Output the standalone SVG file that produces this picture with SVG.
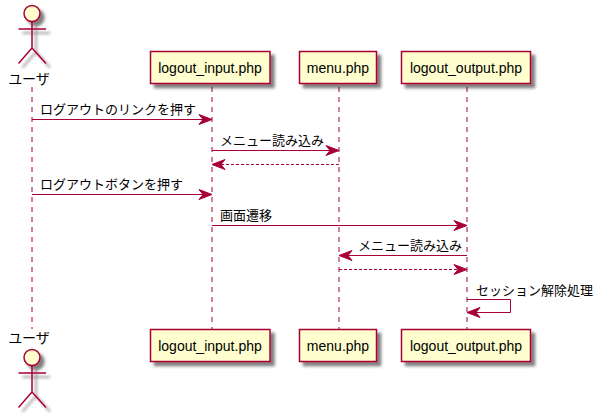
<svg xmlns="http://www.w3.org/2000/svg" width="603" height="418" viewBox="0 0 603 418">
<style>
text{font-family:"Liberation Sans","Noto Sans CJK JP",sans-serif;font-size:13px;fill:#000}
.box{fill:#FEFECE;stroke:#A80036;stroke-width:1.5}
.life{stroke:#A80036;stroke-width:1;stroke-dasharray:5 5;fill:none}
.msg{stroke:#A80036;stroke-width:1;fill:none}
.dash{stroke-dasharray:3 2}
.stick{stroke:#A80036;stroke-width:1.5;fill:none}
.head{fill:#A80036;stroke:#A80036}
.c{text-anchor:middle;font-size:14px}
</style>
<defs>
<filter id="sh" x="-30%" y="-30%" width="170%" height="170%"><feGaussianBlur in="SourceAlpha" stdDeviation="1.7"/><feOffset dx="4" dy="4"/><feComponentTransfer><feFuncA type="linear" slope="0.5"/></feComponentTransfer><feMerge><feMergeNode/><feMergeNode in="SourceGraphic"/></feMerge></filter>
<g id="actor"><circle class="box" cx="32" cy="0" r="8"/><path class="stick" d="M32 8V34.500M18.500 15.500H46M32 34.500L18.500 50M32 34.500L46 50"/></g>
</defs>
<g id="connectors">
<path class="life" d="M32 87V329"/><path class="life" d="M212 87V329"/><path class="life" d="M339 87V329"/><path class="life" d="M467 87V329"/>
<path class="msg" d="M32 119.500H208"/><path class="head" d="M199 114.500L212 119.500L199 124.500L203 119.500Z"/>
<path class="msg" d="M212 150.500H335"/><path class="head" d="M326 145.500L339 150.500L326 155.500L330 150.500Z"/>
<path class="msg dash" d="M216 164.500H339"/><path class="head" d="M225 159.500L212 164.500L225 169.500L221 164.500Z"/>
<path class="msg" d="M32 194.500H208"/><path class="head" d="M199 189.500L212 194.500L199 199.500L203 194.500Z"/>
<path class="msg" d="M212 225.500H463"/><path class="head" d="M454 220.500L467 225.500L454 230.500L458 225.500Z"/>
<path class="msg" d="M343 255.500H467"/><path class="head" d="M352 250.500L339 255.500L352 260.500L348 255.500Z"/>
<path class="msg dash" d="M339 269.500H463"/><path class="head" d="M454 264.500L467 269.500L454 274.500L458 269.500Z"/>
<path class="msg" d="M467 299.500H510.500V312.500H471"/><path class="head" d="M480 307.500L467 312.500L480 317.500L476 312.500Z"/>
</g>
<g id="msg-labels">
<text x="40" y="114">ログアウトのリンクを押す</text>
<text x="220" y="145">メニュー読み込み</text>
<text x="40" y="189">ログアウトボタンを押す</text>
<text x="220" y="220">画面遷移</text>
<text x="358" y="250">メニュー読み込み</text>
<text x="476" y="295">セッション解除処理</text>
</g>
<g id="actor-top" filter="url(#sh)"><use href="#actor" y="13.500"/></g>
<text x="29" y="84" class="c">ユーザ</text>
<g id="actor-bottom" filter="url(#sh)"><use href="#actor" y="357.500"/></g>
<text x="29" y="343" class="c">ユーザ</text>
<g id="input-top"><rect class="box" filter="url(#sh)" x="150.500" y="51.500" width="119.500" height="32"/><text class="c" x="210" y="73">logout_input.php</text></g>
<g id="menu-top"><rect class="box" filter="url(#sh)" x="299.500" y="51.500" width="77" height="32"/><text class="c" x="338" y="73">menu.php</text></g>
<g id="output-top"><rect class="box" filter="url(#sh)" x="401.500" y="51.500" width="129" height="32"/><text class="c" x="466" y="73">logout_output.php</text></g>
<g id="input-bottom"><rect class="box" filter="url(#sh)" x="150.500" y="329.500" width="119.500" height="32"/><text class="c" x="210" y="351">logout_input.php</text></g>
<g id="menu-bottom"><rect class="box" filter="url(#sh)" x="299.500" y="329.500" width="77" height="32"/><text class="c" x="338" y="351">menu.php</text></g>
<g id="output-bottom"><rect class="box" filter="url(#sh)" x="401.500" y="329.500" width="129" height="32"/><text class="c" x="466" y="351">logout_output.php</text></g>
</svg>
